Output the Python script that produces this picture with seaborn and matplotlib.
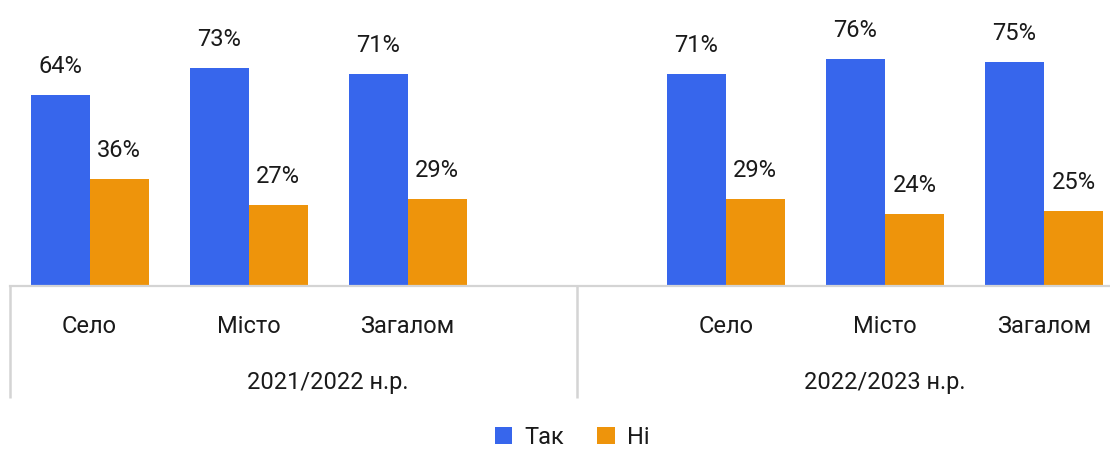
import matplotlib
matplotlib.use("Agg")
import matplotlib.pyplot as plt
import pandas as pd
import seaborn as sns

# data
years = ["2021/2022 н.р.", "2022/2023 н.р."]
places = ["Село", "Місто", "Загалом"]
answers = ["Так", "Ні"]
yes_2021 = [64, 73, 71]
no_2021 = [36, 27, 29]
yes_2022 = [71, 76, 75]
no_2022 = [29, 24, 25]

colors = {"Так": "#3766EC", "Ні": "#EE940B"}
text_color = "#1a1a1a"
line_color = "#D4D4D4"
fs = 17

rows = []
for year, yes, no in [(years[0], yes_2021, no_2021), (years[1], yes_2022, no_2022)]:
    for place, y, n in zip(places, yes, no):
        rows.append({"slot": f"{year}|{place}", "answer": "Так", "value": y})
        rows.append({"slot": f"{year}|{place}", "answer": "Ні", "value": n})
df = pd.DataFrame(rows)

# first year block has an empty slot after "Загалом"
order = [f"{years[0]}|{p}" for p in places] + ["gap"] + [f"{years[1]}|{p}" for p in places]

sns.set_theme(style="white")
plt.rcParams["font.family"] = ["Roboto", "DejaVu Sans"]

W, H = 1110, 452
fig = plt.figure(figsize=(W / 100, H / 100), dpi=100)
base_px = 287
ax = fig.add_axes([10 / W, (H - base_px) / H, 1 - 10 / W, base_px / H])

sns.barplot(data=df, x="slot", y="value", hue="answer", order=order,
            hue_order=answers, palette=colors, width=0.742, saturation=1,
            linewidth=0, ax=ax)

ax.set_ylim(0, 96.2)
ax.set_xlim(-0.5, 6.415)
ax.set_xlabel("")
ax.set_ylabel("")
ax.set_yticks([])
ax.set_xticks([])
for s in ["top", "right", "left"]:
    ax.spines[s].set_visible(False)
ax.spines["bottom"].set_color(line_color)
ax.spines["bottom"].set_linewidth(1.6)

for cont in ax.containers:
    ax.bar_label(cont, fmt="%g%%", padding=13, fontsize=fs, color=text_color)

# category labels and year labels
xtr = ax.get_xaxis_transform()
for i, key in enumerate(order):
    if key == "gap":
        continue
    ax.text(i, -0.139, key.split("|")[1], transform=xtr, ha="center",
            va="center", fontsize=fs, color=text_color)
ax.text(1.5, -0.334, years[0], transform=xtr, ha="center", va="center",
        fontsize=fs, color=text_color)
ax.text(5, -0.334, years[1], transform=xtr, ha="center", va="center",
        fontsize=fs, color=text_color)

# separators of the year blocks
for xs in [-0.5, 3.065]:
    ax.plot([xs, xs], [0, -0.39], transform=xtr, color=line_color,
            lw=1.8, clip_on=False, solid_capstyle="butt")

handles, labels = ax.get_legend_handles_labels()
ax.legend_.remove()
fig.legend(handles, labels, loc="center", bbox_to_anchor=(572 / W, 1 - 438 / H),
           ncol=2, frameon=False, fontsize=fs, handlelength=0.75,
           handleheight=0.75, handletextpad=0.5, columnspacing=1.4,
           borderpad=0.2, labelcolor=text_color)

fig.savefig("out.png", dpi=100, facecolor="white")
